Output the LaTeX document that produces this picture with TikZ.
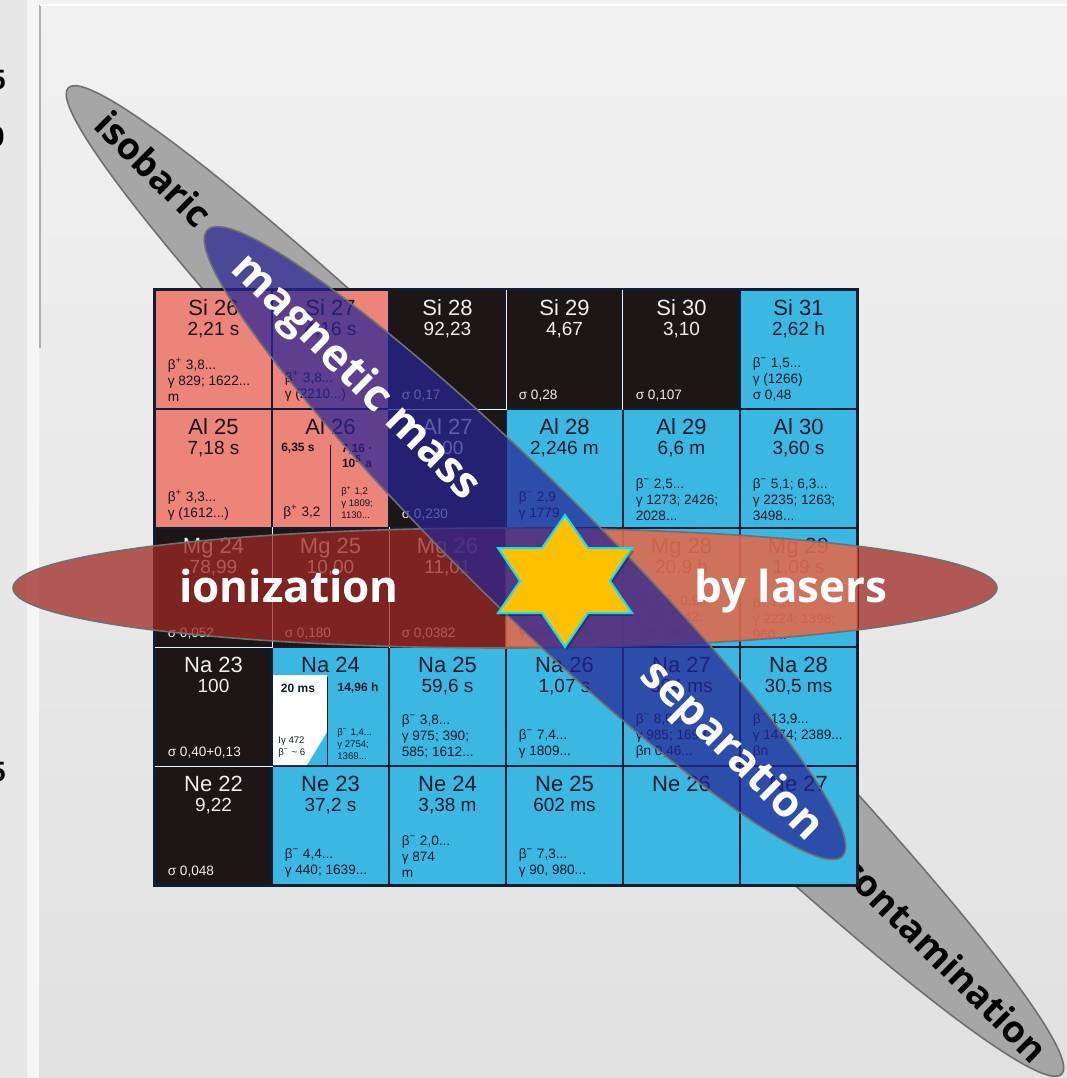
\documentclass[tikz,border=0pt]{standalone}
\usepackage{fontspec}
\setmainfont{Liberation Sans}
\newfontfamily\bandfont{Open Sans}
\usepackage{tikz}
\usetikzlibrary{positioning}

\definecolor{pageTop}{RGB}{241,241,241}
\definecolor{pageBottom}{RGB}{225,225,225}
\definecolor{stripGray}{RGB}{231,231,231}
\definecolor{stripBar}{RGB}{246,246,246}
\definecolor{stripLine}{RGB}{175,175,175}
\definecolor{chartLine}{RGB}{15,30,50}
\definecolor{beplusFill}{RGB}{236,132,122}
\definecolor{beplusInk}{RGB}{28,20,28}
\definecolor{stableFill}{RGB}{28,22,22}
\definecolor{stableInk}{RGB}{238,238,238}
\definecolor{beminusFill}{RGB}{58,184,226}
\definecolor{beminusInk}{RGB}{15,25,45}
\definecolor{bandGray}{RGB}{166,166,166}
\definecolor{bandEdge}{RGB}{112,112,112}
\definecolor{bandBlue}{RGB}{40,36,150}
\definecolor{bandRed}{RGB}{160,40,35}
\definecolor{bandGlow}{RGB}{255,140,100}
\definecolor{starGold}{RGB}{255,192,0}
\definecolor{starEdge}{RGB}{0,230,255}

\newcommand\valsize{\fontsize{9.5}{10}\selectfont}
\newcommand\bplus{β\textsuperscript{+}}
\newcommand\bminus{β\textsuperscript{−}}

\begin{document}
\begin{tikzpicture}[x=0.5pt, y=-0.5pt,
    cell/.style={rectangle, draw=chartLine, line width=0.6pt,
                 minimum width=58.5pt, minimum height=59.5pt, inner sep=0pt},
    title/.style={align=center, inner sep=0pt, font=\fontsize{11}{10}\selectfont},
    decay/.style={align=left, inner sep=0pt, font=\fontsize{6.8}{8}\selectfont},
    tiny decay/.style={align=left, inner sep=0pt, font=\fontsize{4.8}{6}\selectfont},
    subtime/.style={align=center, inner sep=0pt, font=\fontsize{6}{7.5}\selectfont\bfseries},
    subline/.style={draw=chartLine, line width=0.4pt},
    stableedge/.style={draw=white!88!gray, line width=0.8pt},
    band/.style={draw=bandEdge, line width=0.8pt},
    bandword/.style={inner sep=0pt, text=white, font=\bandfont\bfseries\fontsize{22}{24}\selectfont},
    greyword/.style={inner sep=0pt, text=black, font=\bandfont\bfseries\fontsize{18.5}{20}\selectfont}
  ]
  \useasboundingbox (0,0) rectangle (1067,1078);
  \shade[top color=pageTop, bottom color=pageBottom] (0,0) rectangle (1067,1078);

  % side strip of the slide panel
  \fill[stripGray] (0,0) rectangle (27,1078);
  \fill[stripBar] (27,0) rectangle (39,1078);
  \draw[stripLine, line width=0.6pt] (40,5) -- (40,348);
  \draw[white, line width=1.2pt] (40,5) -- (1067,5);
  \begin{scope}
    \clip (0,0) rectangle (8,1078);
    \node[font=\bfseries\fontsize{14}{14}\selectfont] (frag1) at (-2,80) {5};
    \node[font=\bfseries\fontsize{14}{14}\selectfont] (frag2) at (-3,137) {0};
    \node[font=\bfseries\fontsize{14}{14}\selectfont] (frag3) at (-2,772) {5};
  \end{scope}

  % isobaric contamination band, behind the chart
  \filldraw[fill=bandGray, band, rotate around={-44.8:(565,581)}]
    (565,581) ellipse [x radius=700, y radius=64];
  \node[greyword, rotate=-44.8] (isobaric) at (154,169) {isobaric};
  \node[greyword, rotate=-44.8] (contam) at (945,959) {contamination};

  % nuclide chart
  \foreach \c/\r/\kind/\n/\v/\d in {
    0/0/beplus/{Si 26}/{2,21 s}/{\bplus{} 3,8...\\γ 829; 1622...\\m},
    1/0/beplus/{Si 27}/{4,16 s}/{\bplus{} 3,8...\\γ (2210...)},
    2/0/stable/{Si 28}/{92,23}/{σ 0,17},
    3/0/stable/{Si 29}/{4,67}/{σ 0,28},
    4/0/stable/{Si 30}/{3,10}/{σ 0,107},
    5/0/beminus/{Si 31}/{2,62 h}/{\bminus{} 1,5...\\γ (1266)\\σ 0,48},
    0/1/beplus/{Al 25}/{7,18 s}/{\bplus{} 3,3...\\γ (1612...)},
    1/1/beplus/{Al 26}/{}/{},
    2/1/stable/{Al 27}/{100}/{σ 0,230},
    3/1/beminus/{Al 28}/{2,246 m}/{\bminus{} 2,9\\γ 1779},
    4/1/beminus/{Al 29}/{6,6 m}/{\bminus{} 2,5...\\γ 1273; 2426;\\2028...},
    5/1/beminus/{Al 30}/{3,60 s}/{\bminus{} 5,1; 6,3...\\γ 2235; 1263;\\3498...},
    0/2/stable/{Mg 24}/{78,99}/{σ 0,052},
    1/2/stable/{Mg 25}/{10,00}/{σ 0,180},
    2/2/stable/{Mg 26}/{11,01}/{σ 0,0382},
    3/2/beminus/{Mg 27}/{9,46 m}/{\bminus{} 1,8...\\γ 844; 1014...},
    4/2/beminus/{Mg 28}/{20,9 h}/{\bminus{} 0,5; 0,9...\\γ 31; 1342;\\401; 942...},
    5/2/beminus/{Mg 29}/{1,09 s}/{\bminus{} 7,5...\\γ 2224; 1398;\\960...},
    0/3/stable/{Na 23}/{100}/{σ 0,40+0,13},
    1/3/beminus/{Na 24}/{}/{},
    2/3/beminus/{Na 25}/{59,6 s}/{\bminus{} 3,8...\\γ 975; 390;\\585; 1612...},
    3/3/beminus/{Na 26}/{1,07 s}/{\bminus{} 7,4...\\γ 1809...},
    4/3/beminus/{Na 27}/{304 ms}/{\bminus{} 8,0...\\γ 985; 1698...\\βn 0,46...},
    5/3/beminus/{Na 28}/{30,5 ms}/{\bminus{} 13,9...\\γ 1474; 2389...\\βn},
    0/4/stable/{Ne 22}/{9,22}/{σ 0,048},
    1/4/beminus/{Ne 23}/{37,2 s}/{\bminus{} 4,4...\\γ 440; 1639...},
    2/4/beminus/{Ne 24}/{3,38 m}/{\bminus{} 2,0...\\γ 874\\m},
    3/4/beminus/{Ne 25}/{602 ms}/{\bminus{} 7,3...\\γ 90, 980...},
    4/4/beminus/{Ne 26}/{}/{},
    5/4/beminus/{Ne 27}/{}/{}}{
    \node[cell, fill=\kind Fill] (n\c\r) at ({213.5+117*\c},{349.5+119*\r}) {};
    \node[title, text=\kind Ink, below=5pt of n\c\r.north] (t\c\r) {\n\\{\valsize\v}};
    \node[decay, text=\kind Ink, above right=3.8pt and 6.5pt of n\c\r.south west] (d\c\r) {\d};
  }

  % Al 26 with its isomer
  \draw[subline] (n11.south) -- ++(0,-84);
  \node[subtime, text=beplusInk] (al26m) at (298,448) {6,35 s};
  \node[subtime, text=beplusInk] (al26g) at (357,456) {7,16 ·\\10\textsuperscript{5} a};
  \node[decay, text=beplusInk, anchor=south west] (al26md) at (283,520) {\bplus{} 3,2};
  \node[tiny decay, text=beplusInk, anchor=south west] (al26gd) at (341,519) {\bplus{} 1,2\\γ 1809;\\1130...};

  % Na 24 with its isomer
  \fill[white] (273,675) -- (327,675) -- (327,732) -- (307,765) -- (273,765) -- cycle;
  \draw[subline] (n13.south) ++(-3,0) -- ++(0,-90);
  \node[subtime, text=beminusInk] (na24m) at (298,688) {20 ms};
  \node[subtime, text=beminusInk] (na24g) at (358,688) {14,96 h};
  \node[tiny decay, text=beminusInk, anchor=south west] (na24md) at (278,758) {Iγ 472\\\bminus{} \textasciitilde{} 6};
  \node[tiny decay, text=beminusInk, anchor=south west] (na24gd) at (337,760) {\bminus{} 1,4...\\γ 2754;\\1369...};

  % light rims of the stable cells
  \draw[stableedge] (n20.north east) -- (n20.south east) -- (n20.south west);
  \draw[stableedge] (n40.south west) -- (n40.north west) -- (n40.north east);
  \draw[stableedge] (n02.north east) -- (n02.south east) -- (n02.south west);
  \draw[stableedge] (n12.north east) -- (n12.south east);
  \draw[stableedge] (n03.south west) -- (n03.south east);
  \draw[chartLine, line width=1pt] (n00.north west) rectangle (n54.south east);

  % ionization by lasers
  \fill[bandRed, opacity=.75] (505,588) ellipse [x radius=492, y radius=60];
  \begin{scope}
    \clip (n32.north west) rectangle (n52.south east);
    \fill[bandGlow, opacity=.6] (505,588) ellipse [x radius=492, y radius=60];
  \end{scope}
  \draw[band] (505,588) ellipse [x radius=492, y radius=60];

  % magnetic mass separation
  \filldraw[fill=bandBlue, fill opacity=.72, band, rotate around={-44.6:(525,543)}]
    (525,543) ellipse [x radius=446, y radius=64];

  \node[bandword, rotate=-44.6] (magmass) at (355,378) {magnetic mass};
  \node[bandword, rotate=-44.6] (separation) at (731,752) {separation};
  \node[bandword, anchor=base] (ionization) at (289,602) {ionization};
  \node[bandword, anchor=base] (bylasers) at (791,602) {by lasers};

  % star where the three meet
  \fill[black, opacity=.25, shift={(2,3)}] (565,515) -- (588,548) -- (632,548) -- (610,581)
    -- (632,613) -- (588,613) -- (565,647) -- (542,613) -- (498,613) -- (520,581)
    -- (498,548) -- (542,548) -- cycle;
  \filldraw[fill=starGold, draw=starEdge, line width=1pt] (565,515) -- (588,548) -- (632,548) -- (610,581)
    -- (632,613) -- (588,613) -- (565,647) -- (542,613) -- (498,613) -- (520,581)
    -- (498,548) -- (542,548) -- cycle;
\end{tikzpicture}
\end{document}
